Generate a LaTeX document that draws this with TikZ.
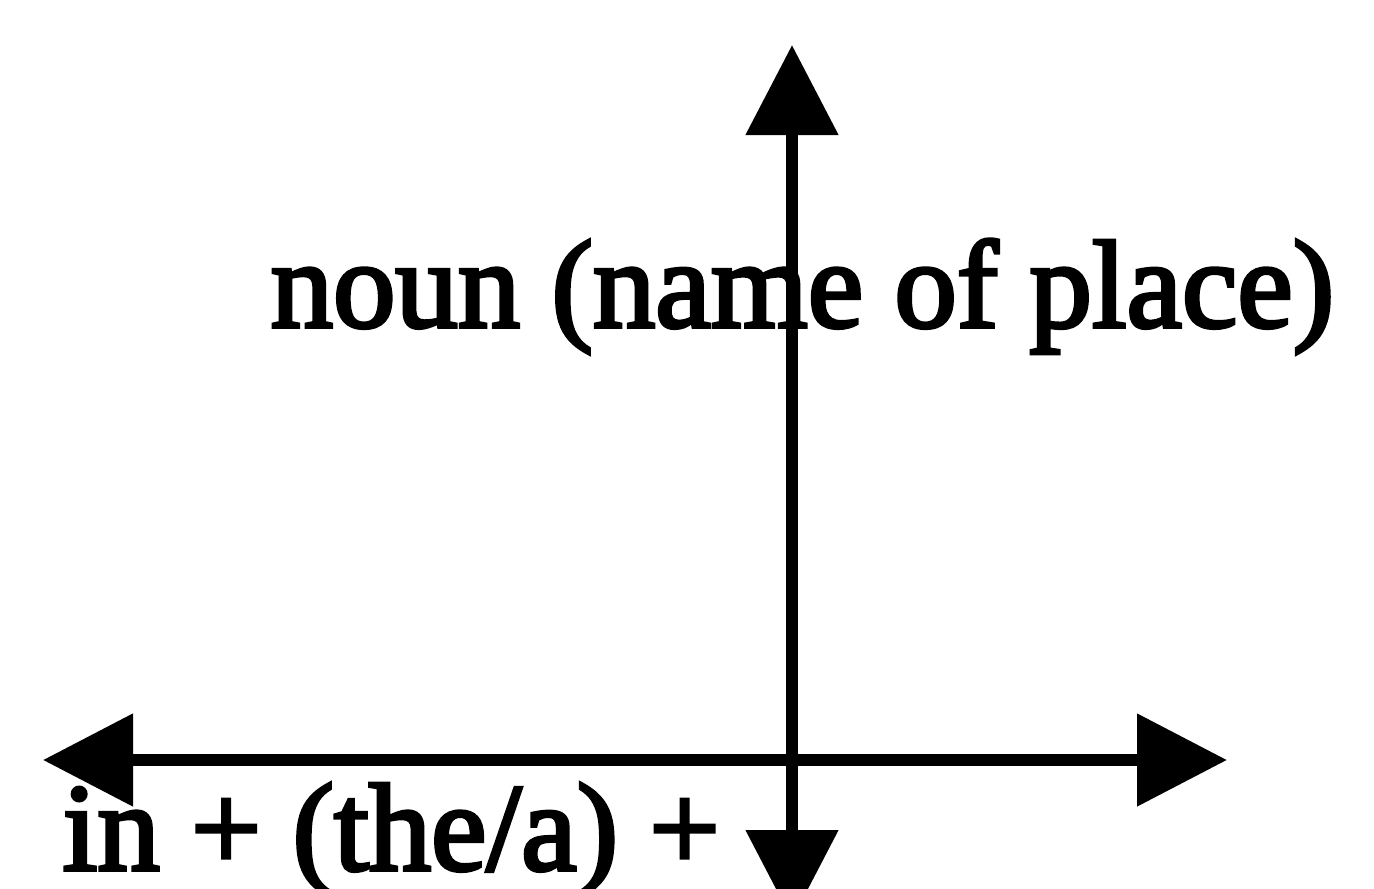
\documentclass[tikz,border=0pt]{standalone}
\usepackage{fontspec}
\setmainfont{Liberation Serif}
\newfontfamily\scanfont{Liberation Serif}[FakeBold=3]
\usetikzlibrary{arrows.meta}

\begin{document}
\begin{tikzpicture}[line cap=butt,line join=miter,>={Triangle[length=0.9cm,width=0.9cm]},
  every node/.style={inner sep=0pt},
  axis/.style={line width=3.4pt,<->},
  lbl/.style={anchor=base west,font=\scanfont\fontsize{35.5}{38}\selectfont}]
  \useasboundingbox (0,0) rectangle (13.74,8.88);
  \coordinate (top) at (7.92,8.43);
  \coordinate (bot) at (7.92,-0.32);
  \coordinate (lft) at (0.43,1.28);
  \coordinate (rgt) at (12.27,1.28);
  \draw[axis] (bot) -- (top);
  \draw[axis] (lft) -- (rgt);
  \node[lbl] (noun) at (2.70,5.61) {noun (name of place)};
  \node[lbl] (prep) at (0.62,0.18) {in + (the/a) +};
\end{tikzpicture}
\end{document}
